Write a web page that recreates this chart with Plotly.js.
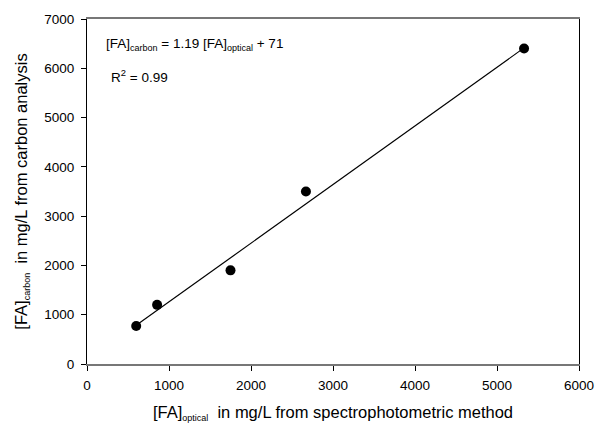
<!DOCTYPE html>
<html>
<head>
<meta charset="utf-8">
<script src="https://cdn.plot.ly/plotly-3.0.1.min.js"></script>
<style>html,body{margin:0;padding:0;background:#fff;}#chart{width:595px;height:424px;}</style>
</head>
<body>
<div id="chart"></div>
<script>
// Data
const opticalFA = [600, 855, 1750, 2670, 5330];
const carbonFA = [770, 1200, 1900, 3500, 6400];
// Regression line endpoints (as drawn)
const fitX = [600, 5330];
const fitY = [785, 6414];
const xTicks = [0, 1000, 2000, 3000, 4000, 5000, 6000];
const yTicks = [0, 1000, 2000, 3000, 4000, 5000, 6000, 7000];

const font = 'Liberation Sans, Arial, sans-serif';

const traces = [
  {x: fitX, y: fitY, mode: 'lines', type: 'scatter',
   line: {color: '#000', width: 1.2}, hoverinfo: 'skip', showlegend: false},
  {x: opticalFA, y: carbonFA, mode: 'markers', type: 'scatter',
   marker: {color: '#000', size: 10}, showlegend: false}
];

const sub = t => '<sub><span style="font-size:9px">' + t + '</span></sub>';

const layout = {
  width: 595, height: 424,
  margin: {l: 87, r: 16, t: 19, b: 60},
  paper_bgcolor: '#fff', plot_bgcolor: '#fff',
  font: {family: font, size: 13.5, color: '#000'},
  showlegend: false,
  xaxis: {
    range: [0, 6000], tickvals: xTicks, ticktext: xTicks.map(String),
    showgrid: false, zeroline: false,
    showline: true, linecolor: '#777', linewidth: 2, mirror: true,
    ticks: 'outside', ticklen: 5, tickcolor: '#000', tickwidth: 1,
    ticklabelstandoff: 3,
    tickfont: {family: font, size: 13.5, color: '#000'},
    title: {text: '[FA]' + sub('optical') + '  in mg/L from spectrophotometric method',
            font: {family: font, size: 16.5, color: '#000'}, standoff: 14}
  },
  yaxis: {
    range: [0, 7000], tickvals: yTicks, ticktext: yTicks.map(String),
    showgrid: false, zeroline: false,
    showline: true, linecolor: '#000', linewidth: 1, mirror: true,
    ticks: 'outside', ticklen: 5, tickcolor: '#000', tickwidth: 1,
    ticklabelstandoff: 4,
    tickfont: {family: font, size: 13.5, color: '#000'},
    title: {text: '[FA]' + sub('carbon') + '  in mg/L from carbon analysis',
            font: {family: font, size: 16.5, color: '#000'}, standoff: 12}
  },
  annotations: [
    {xref: 'paper', yref: 'paper', x: 0.034, y: 0.927, xanchor: 'left', yanchor: 'middle',
     text: '[FA]' + sub('carbon') + ' = 1.19 [FA]' + sub('optical') + ' + 71', showarrow: false,
     font: {family: font, size: 13.5, color: '#000'}},
    {xref: 'paper', yref: 'paper', x: 0.045, y: 0.835, xanchor: 'left', yanchor: 'middle',
     text: 'R<sup>2</sup> = 0.99', showarrow: false,
     font: {family: font, size: 13.5, color: '#000'}}
  ]
};

Plotly.newPlot('chart', traces, layout, {displayModeBar: false, staticPlot: true});
</script>
</body>
</html>
